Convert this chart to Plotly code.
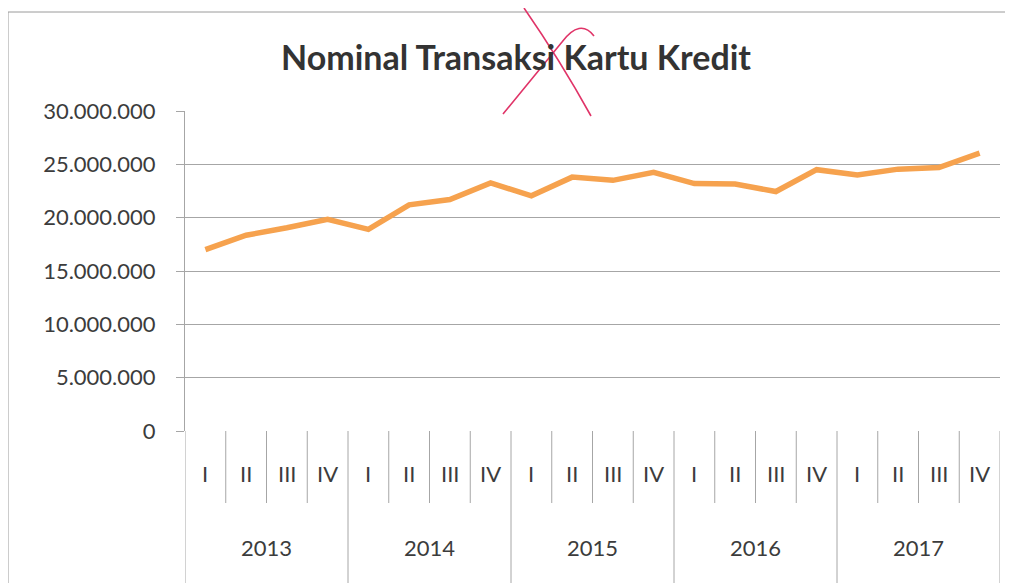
import plotly.graph_objects as go

years = ["2013"] * 4 + ["2014"] * 4 + ["2015"] * 4 + ["2016"] * 4 + ["2017"] * 4
quarters = ["I", "II", "III", "IV"] * 5
nominal = [17000000, 18350000, 19050000, 19850000,
           18900000, 21200000, 21700000, 23250000,
           22050000, 23800000, 23500000, 24250000,
           23200000, 23150000, 22450000, 24500000,
           24000000, 24550000, 24700000, 26050000]
y_ticks = [0, 5000000, 10000000, 15000000, 20000000, 25000000, 30000000]

OFF = 8  # page body margin
W, H = 1013 - OFF, 583 - OFF
L, R, T, B = 185 - OFF, 13, 111 - OFF, 152
pw, ph = W - L - R, H - T - B


def px(x):
    return (x - OFF - L) / pw


def py(y):
    return (H - B - (y - OFF)) / ph


idx = list(range(len(nominal)))
font_color = "#3c3c3c"
grey = "#a6a6a6"
font = "Lato, 'Open Sans', sans-serif"

fig = go.Figure()
fig.add_trace(go.Scatter(
    x=idx, y=nominal, mode="lines",
    line=dict(color="#F6A24E", width=5.5), hoverinfo="skip", showlegend=False))

fig.update_layout(
    width=W, height=H,
    margin=dict(l=L, r=R, t=T, b=B),
    paper_bgcolor="white", plot_bgcolor="white",
    separators=",.",
    font=dict(family=font, color=font_color, size=22),
    title=dict(text="<b>Nominal Transaksi Kartu Kredit</b>", x=px(516), xanchor="center",
               xref="paper", y=1 - (58 - OFF) / H, yanchor="middle",
               font=dict(family=font, size=34, color="#333333")),
    xaxis=dict(range=[-0.5, len(idx) - 0.5], showgrid=False, showticklabels=False,
               ticks="", showline=False, zeroline=False),
    yaxis=dict(range=[0, 30000000], tickvals=y_ticks, tickformat=",d", showgrid=True,
               gridcolor=grey, gridwidth=1, ticks="outside", ticklen=8,
               tickcolor=grey, showline=True, linecolor=grey, linewidth=1,
               zeroline=False, ticklabelstandoff=16,
               tickfont=dict(size=22, color=font_color)),
)

# category axis: quarter labels, year labels and separator lines
for i, q in enumerate(quarters):
    fig.add_annotation(x=i, y=py(473), xref="x", yref="paper", text=q, showarrow=False,
                       yanchor="middle", font=dict(size=22, color=font_color))
    edge = i - 0.5
    is_year_edge = i == 0 or years[i] != years[i - 1]
    fig.add_shape(type="line", xref="x", yref="paper", x0=edge, x1=edge,
                  y0=0, y1=py(583) if is_year_edge else py(503),
                  line=dict(color=grey, width=1))
fig.add_shape(type="line", xref="x", yref="paper", x0=len(idx) - 0.5, x1=len(idx) - 0.5,
              y0=0, y1=py(583), line=dict(color=grey, width=1))

for yr in dict.fromkeys(years):
    pos = [i for i, y in enumerate(years) if y == yr]
    fig.add_annotation(x=sum(pos) / len(pos), y=py(547), xref="x", yref="paper", text=yr,
                       showarrow=False, yanchor="middle", font=dict(size=22, color=font_color))

# outer chart frame (scanned page border)
fig.add_shape(type="line", xref="paper", yref="paper", x0=px(8), x1=px(8), y0=py(12), y1=py(583),
              line=dict(color="#9a9a9a", width=1))
fig.add_shape(type="line", xref="paper", yref="paper", x0=px(8), x1=px(1013), y0=py(12), y1=py(12),
              line=dict(color="#9a9a9a", width=1))

# handwritten red cross over the title
fig.add_shape(type="path", xref="paper", yref="paper",
              path=f"M {px(524)},{py(8)} Q {px(560)},{py(60)} {px(591)},{py(116)}",
              line=dict(color="#E03468", width=1.6))
fig.add_shape(type="path", xref="paper", yref="paper",
              path=f"M {px(594)},{py(36)} Q {px(580)},{py(18)} {px(562)},{py(42)} L {px(503)},{py(114)}",
              line=dict(color="#E03468", width=1.6))

fig.write_html("out.html")
